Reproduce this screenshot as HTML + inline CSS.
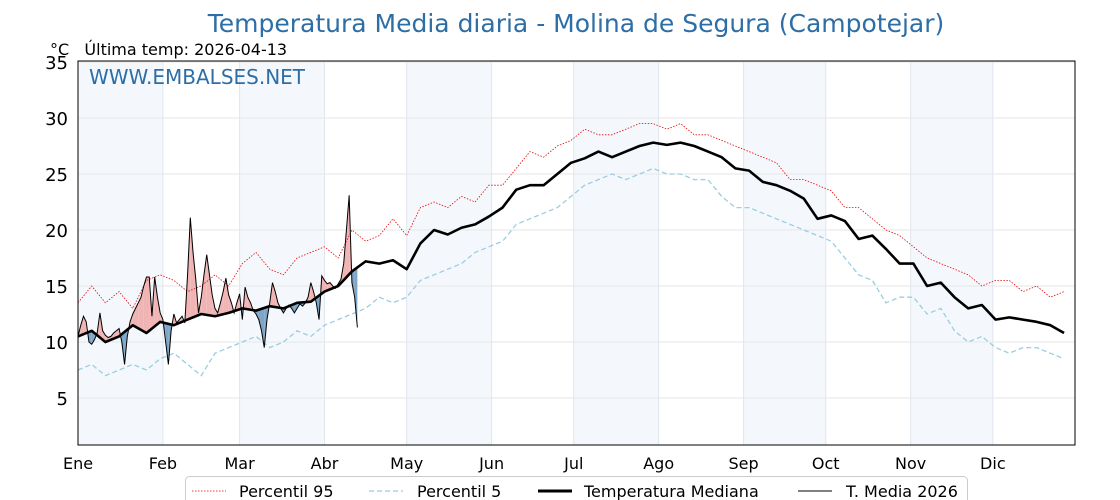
<!DOCTYPE html>
<html><head><meta charset="utf-8">
<style>
html,body{margin:0;padding:0;background:#fff;}
svg{display:block;font-family:"DejaVu Sans","Liberation Sans",sans-serif;}
text{white-space:pre;}
</style></head>
<body>
<svg id="chart" width="1120" height="500" viewBox="0 0 1120 500">
<text x="576" y="32" text-anchor="middle" font-size="25" fill="#2e6ea6">Temperatura Media diaria - Molina de Segura (Campotejar)</text>
<text x="50" y="55" font-size="16" fill="#000" xml:space="preserve">°C   Última temp: 2026-04-13</text>
<g id="plot"></g>
<text x="89" y="84" font-size="20" fill="#2e6ea6">WWW.EMBALSES.NET</text>
<g>
<rect x="185.5" y="476.5" width="782" height="40" rx="4" fill="#fff" stroke="#ccc"/>
<g><line x1="192" y1="491" x2="226" y2="491" stroke="#e00" stroke-width="0.8" stroke-dasharray="1.5,1.5"/><text x="239" y="497" font-size="16">Percentil 95</text></g>
<g><line x1="369" y1="491" x2="403" y2="491" stroke="#9ccde0" stroke-width="1.2" stroke-dasharray="5,3"/><text x="417" y="497" font-size="16">Percentil 5</text></g>
<g><line x1="538" y1="491" x2="572" y2="491" stroke="#000" stroke-width="3"/><text x="584" y="497" font-size="16">Temperatura Mediana</text></g>
<g><line x1="798" y1="491" x2="832" y2="491" stroke="#000" stroke-width="1"/><text x="846" y="497" font-size="16">T. Media 2026</text></g>
</g>
</svg>
<script>
const months = ["Ene","Feb","Mar","Abr","May","Jun","Jul","Ago","Sep","Oct","Nov","Dic"];
const monthStartDays = [0,31,59,90,120,151,181,212,243,273,304,334];
const yTicks = [5,10,15,20,25,30,35];
const stepDays = 5;
const median = [10.5,11,10,10.5,11.5,10.8,11.8,11.5,12,12.5,12.3,12.6,13,12.8,13.2,13,13.5,13.6,14.5,15,16.3,17.2,17,17.3,16.5,18.8,20,19.6,20.2,20.5,21.2,22,23.6,24,24,25,26,26.4,27,26.5,27,27.5,27.8,27.6,27.8,27.5,27,26.5,25.5,25.3,24.3,24,23.5,22.8,21,21.3,20.8,19.2,19.5,18.3,17,17,15,15.3,14,13,13.3,12,12.2,12,11.8,11.5,10.8];
const p95 = [13.5,15,13.5,14.5,13,15.5,16,15.5,14.5,15,16,15,17,18,16.5,16,17.5,18,18.5,17.5,20,19,19.5,21,19.5,22,22.5,22,23,22.5,24,24,25.5,27,26.5,27.5,28,29,28.5,28.5,29,29.5,29.5,29,29.5,28.5,28.5,28,27.5,27,26.5,26,24.5,24.5,24,23.5,22,22,21,20,19.5,18.5,17.5,17,16.5,16,15,15.5,15.5,14.5,15,14,14.5];
const p5 = [7.5,8,7,7.5,8,7.5,8.5,9,8,7,9,9.5,10,10.5,9.5,10,11,10.5,11.5,12,12.5,13,14,13.5,14,15.5,16,16.5,17,18,18.5,19,20.5,21,21.5,22,23,24,24.5,25,24.5,25,25.5,25,25,24.5,24.5,23,22,22,21.5,21,20.5,20,19.5,19,17.5,16,15.5,13.5,14,14,12.5,13,11,10,10.5,9.5,9,9.5,9.5,9,8.5];
const t2026 = [10.5,11.5,12.3,11.8,10,9.8,10.2,10.8,12.6,11,10.6,10.4,10.5,10.8,11,11.2,10,8,10.5,11.8,12.5,13,13.5,14,15,15.8,15.8,12.3,15.8,14,12.6,12,10,8,11,12.5,11.7,12,12.3,11.7,16,21.1,18,15.6,12.6,14,16,17.8,16,14.2,13,12.6,13.5,14.5,15.7,14.2,13.5,12.6,13.5,14.3,12,14.9,14,13.5,12.8,12.5,12,11,9.5,12,13.5,15.3,14.5,13.5,13,12.6,13,13.3,13,12.6,13,13.4,13.2,13.5,14,15.3,14.5,13.5,12,15.9,15.5,15.2,15.3,15,14.8,15.2,15.6,17,20,23.1,15.3,14,11.3];

const X0=78, X1=1075, Y0=61, Y1=445;
const xs = d => X0 + d*(X1-X0)/364;
const ys = v => 398 - (v-5)*11.2;
const NS="http://www.w3.org/2000/svg";
const plot=document.getElementById('plot');
function mk(tag,attrs,parent){const e=document.createElementNS(NS,tag);for(const k in attrs)e.setAttribute(k,attrs[k]);(parent||plot).appendChild(e);return e;}

monthStartDays.forEach((d,i)=>{
  if(i%2===0){
    const end = i<11?monthStartDays[i+1]:364;
    const r=mk('rect',{x:xs(d),y:Y0,width:xs(end)-xs(d),height:Y1-Y0,fill:'#f4f8fc'});
    
    
  }
});
yTicks.forEach(v=>{
  const l=mk('line',{x1:X0,x2:X1,y1:ys(v),y2:ys(v),stroke:'#e6e6e6','stroke-width':1});
  
  
  const t=mk('text',{x:68,y:ys(v)+7,'text-anchor':'end','font-size':18,fill:'#000'});
  t.textContent=v;
  
  
});
monthStartDays.forEach((d,i)=>{
  const l=mk('line',{x1:xs(d),x2:xs(d),y1:Y0,y2:Y1,stroke:'#e0e6ec','stroke-width':1});
  
  
  const t=mk('text',{x:xs(d),y:469,'text-anchor':'middle','font-size':16,fill:'#000'});
  t.textContent=months[i];
  
  
});

function medAt(d){const i=Math.floor(d/stepDays);const f=d/stepDays-i;const a=median[Math.min(i,median.length-1)],b=median[Math.min(i+1,median.length-1)];return a+(b-a)*f;}
for(let d=0;d<t2026.length-1;d++){
  const a0=t2026[d]-medAt(d), a1=t2026[d+1]-medAt(d+1);
  const pieces=[];
  if(a0*a1<0){const f=a0/(a0-a1);const dc=d+f;const vc=medAt(d)+(medAt(d+1)-medAt(d))*f;
    pieces.push([[d,t2026[d]],[dc,vc],[d,medAt(d)],a0]);
    pieces.push([[dc,vc],[d+1,t2026[d+1]],[d+1,medAt(d+1)],a1]);
  } else {
    pieces.push([[d,t2026[d]],[d+1,t2026[d+1]],[d+1,medAt(d+1)],[d,medAt(d)],a0+a1]);
  }
  pieces.forEach(p=>{
    const sign=p[p.length-1];
    const pts=p.slice(0,-1).map(q=>xs(q[0])+','+ys(q[1])).join(' ');
    const poly=mk('polygon',{points:pts,fill:sign>=0?'#f0b4b4':'#7ea6c8',stroke:'none'});
    
    
  });
}
function line(arr,step,attrs,name){
  const pts=arr.map((v,i)=>xs(i*step)+','+ys(v)).join(' ');
  const e=mk('polyline',Object.assign({points:pts,fill:'none'},attrs));
  
  
}
line(p95,stepDays,{stroke:'#e00','stroke-width':0.8,'stroke-dasharray':'1.5,1.5'},'p95-line');
line(p5,stepDays,{stroke:'#9ccde0','stroke-width':1.3,'stroke-dasharray':'5,3'},'p5-line');
line(median,stepDays,{stroke:'#000','stroke-width':2.6,'stroke-linejoin':'round'},'median-line');
line(t2026,1,{stroke:'#000','stroke-width':1},'t2026-line');
const fr=mk('rect',{x:X0,y:Y0,width:X1-X0,height:Y1-Y0,fill:'none',stroke:'#000','stroke-width':1});


</script>
</body></html>
